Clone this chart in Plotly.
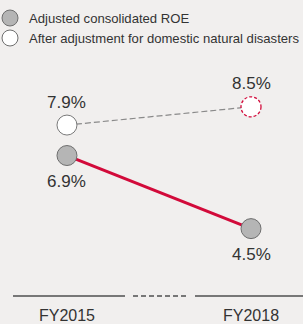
import plotly.graph_objects as go

categories = ["FY2015", "FY2018"]
roe_adjusted = [6.9, 4.5]
roe_after_disasters = [7.9, 8.5]
label_adjusted = [f"{v}%" for v in roe_adjusted]
label_after = [f"{v}%" for v in roe_after_disasters]
legend_names = ["Adjusted consolidated ROE", "After adjustment for domestic natural disasters"]

W, H = 303, 324
BG = "#f1efee"
RED = "#d20a3a"
FONT = "Liberation Sans, Arial, Helvetica, sans-serif"
TXT = "#333333"

xs = list(range(len(categories)))

fig = go.Figure()

# After-adjustment series (dashed gray connector, white markers)
fig.add_trace(go.Scatter(
    x=xs, y=roe_after_disasters, mode="lines+markers",
    line=dict(color="#8a8a8a", width=1.2, dash="6px,3px"),
    marker=dict(size=20, color="white",
                line=dict(color=["#7a7a7a", "rgba(0,0,0,0)"], width=1)),
    showlegend=False, hoverinfo="skip"))

# Adjusted consolidated ROE (solid red line, gray markers)
fig.add_trace(go.Scatter(
    x=xs, y=roe_adjusted, mode="lines+markers",
    line=dict(color=RED, width=3),
    marker=dict(size=20, color="#b5b5b5", line=dict(color="#6e6e6e", width=1)),
    showlegend=False, hoverinfo="skip"))

# dashed red outline for projected point
fig.add_shape(type="circle", xref="x", yref="y",
              xsizemode="pixel", ysizemode="pixel",
              xanchor=xs[1], yanchor=roe_after_disasters[1],
              x0=-10, x1=10, y0=-10, y1=10,
              line=dict(color=RED, width=1.3, dash="3px,2px"))

# value labels
for x, v, t in zip(xs, roe_after_disasters, label_after):
    fig.add_annotation(x=x, y=v, text=t, showarrow=False, yshift=23,
                       font=dict(size=17, color=TXT, family=FONT))
for x, v, t in zip(xs, roe_adjusted, label_adjusted):
    fig.add_annotation(x=x, y=v, text=t, showarrow=False, yshift=-26,
                       font=dict(size=17, color=TXT, family=FONT))

# broken x axis line
axis_y = 0
for x0, x1, dash in [(13, 125, "solid"), (133, 187, "5px,3px"), (195, 303, "solid")]:
    fig.add_shape(type="line", xref="paper", yref="paper",
                  x0=x0 / W, x1=x1 / W, y0=axis_y, y1=axis_y,
                  line=dict(color="#777777", width=2, dash=dash))

# custom legend
for i, (name, fill) in enumerate(zip(legend_names, ["#b5b5b5", "white"])):
    py = 18 + i * 20
    fig.add_shape(type="circle", xref="paper", yref="paper",
                  xsizemode="pixel", ysizemode="pixel",
                  xanchor=10 / W, yanchor=1 - py / 296,
                  x0=-8, x1=8, y0=-8, y1=8,
                  fillcolor=fill, line=dict(color="#6e6e6e", width=1))
    fig.add_annotation(xref="paper", yref="paper", x=27 / W, y=1 - py / 296,
                       xanchor="left", yanchor="middle", showarrow=False,
                       text=name, font=dict(size=13.1, color=TXT, family=FONT))

fig.update_layout(
    width=W, height=H,
    margin=dict(l=0, r=0, t=0, b=28, pad=0),
    paper_bgcolor=BG, plot_bgcolor=BG,
    showlegend=False,
    xaxis=dict(range=[-0.364, 1.2826], tickvals=xs, ticktext=categories,
               showgrid=False, zeroline=False, showline=False, ticks="",
               tickfont=dict(size=16, color=TXT, family=FONT),
               ticklabelstandoff=8, fixedrange=True),
    yaxis=dict(range=[2.288, 12.006], showgrid=False, zeroline=False,
               showline=False, showticklabels=False, ticks="", fixedrange=True),
)

fig.write_html(
    "out.html",
    config={"displayModeBar": False},
    post_script="document.body.style.margin='0';document.body.style.overflow='hidden';"
                "document.body.style.background='" + BG + "';",
)
